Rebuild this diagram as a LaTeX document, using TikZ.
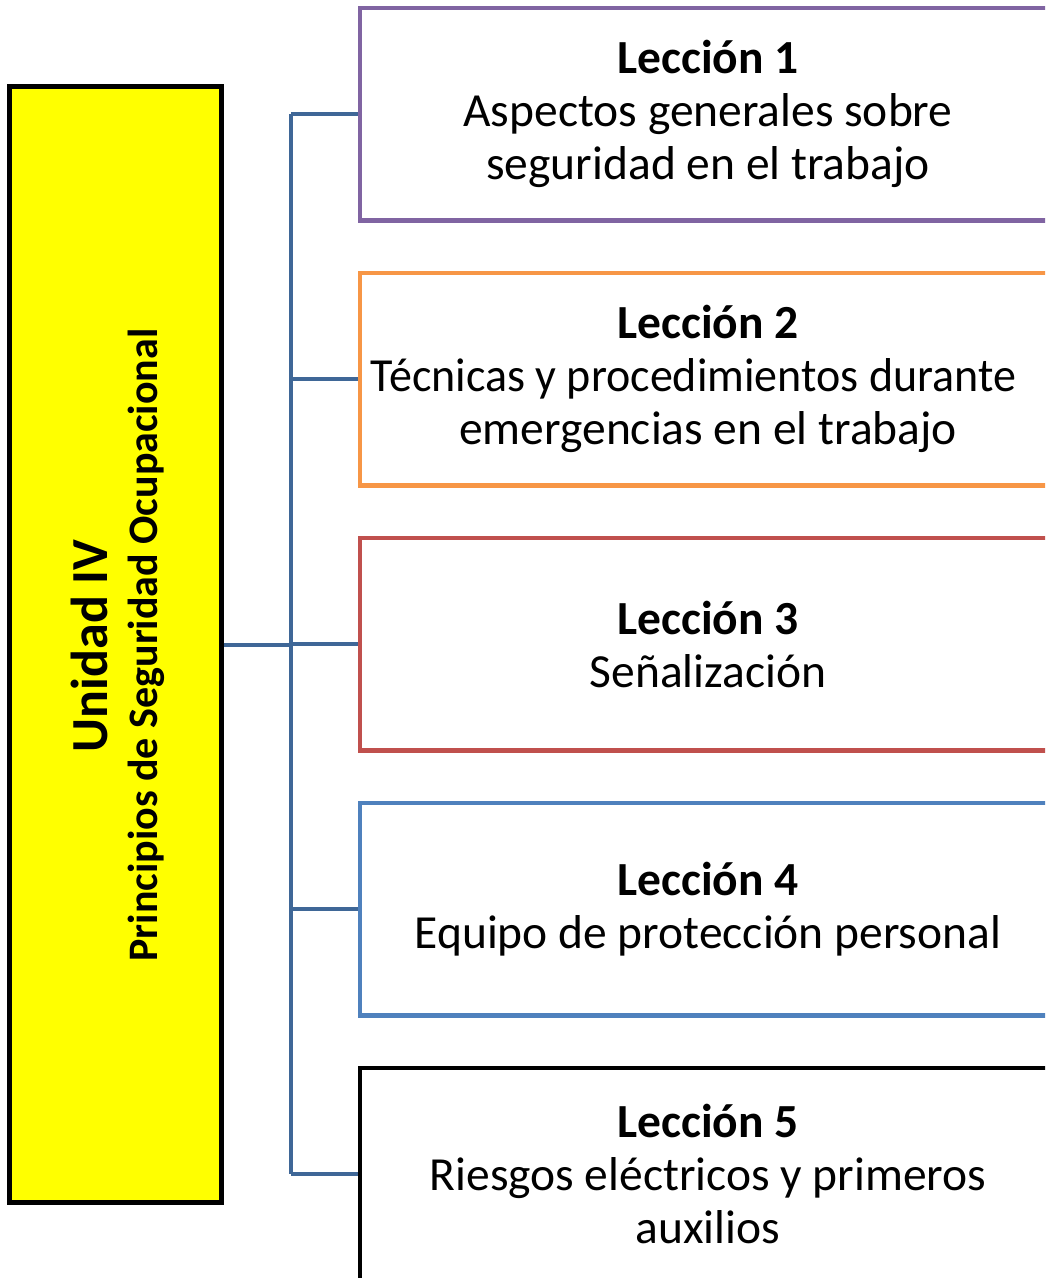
\documentclass[tikz,border=0pt]{standalone}
\usepackage{fontspec}
\setmainfont{Carlito}
\definecolor{conn}{HTML}{3F6797}
\definecolor{c1}{HTML}{8064A2}
\definecolor{c2}{HTML}{F79646}
\definecolor{c3}{HTML}{C0504D}
\definecolor{c4}{HTML}{4F81BD}
\definecolor{unitfill}{HTML}{FFFF00}
\begin{document}
\begin{tikzpicture}[x=1pt,y=1pt,
  lesson/.style={draw, line width=4.5pt, fill=white, minimum width=696pt, minimum height=212.5pt,
    inner sep=0pt, align=center, font=\fontsize{47.5}{53}\selectfont},
  link/.style={draw=conn, line width=4pt}]
\useasboundingbox (0,0) rectangle (1045,-1278);
\begin{scope}
\clip (0,0) rectangle (1045,-1278);
\node[draw=black, line width=5pt, fill=unitfill, minimum width=211.5pt, minimum height=1116pt, inner sep=0pt] (u) at (115.25,-644.5) {};
\node[rotate=90, anchor=base, inner sep=0pt, font=\fontsize{52}{60}\selectfont\bfseries] (ut1) at (107,-646) {Unidad IV};
\node[rotate=90, anchor=base, inner sep=0pt, font=\fontsize{42}{50}\selectfont\bfseries] (ut2) at (157,-645) {Principios de Seguridad Ocupacional};
\coordinate (t) at (291,0);
\node[lesson, draw=c1] (b1) at (708,-114) {\textbf{Lección 1}\\Aspectos generales sobre\\seguridad en el trabajo};
\node[lesson, draw=c2] (b2) at (708,-379) {\textbf{Lección 2}\\\hbox{\scalebox{0.968}[1]{Técnicas y procedimientos durante}\kern29pt}\\emergencias en el trabajo};
\node[lesson, draw=c3] (b3) at (708,-644) {\textbf{Lección 3}\\Señalización};
\node[lesson, draw=c4] (b4) at (708,-909) {\textbf{Lección 4}\\Equipo de protección personal};
\node[lesson, draw=black] (b5) at (708,-1174) {\textbf{Lección 5}\\Riesgos eléctricos y primeros\\auxilios};
\draw[link] (u.east) -- (t |- u.east);
\draw[link] (t |- b1.west) -- (t |- b5.west);
\foreach \b in {b1,b2,b3,b4,b5}{
  \draw[link] (t |- \b.west) -- (\b.west);
}
\end{scope}
\end{tikzpicture}
\end{document}
